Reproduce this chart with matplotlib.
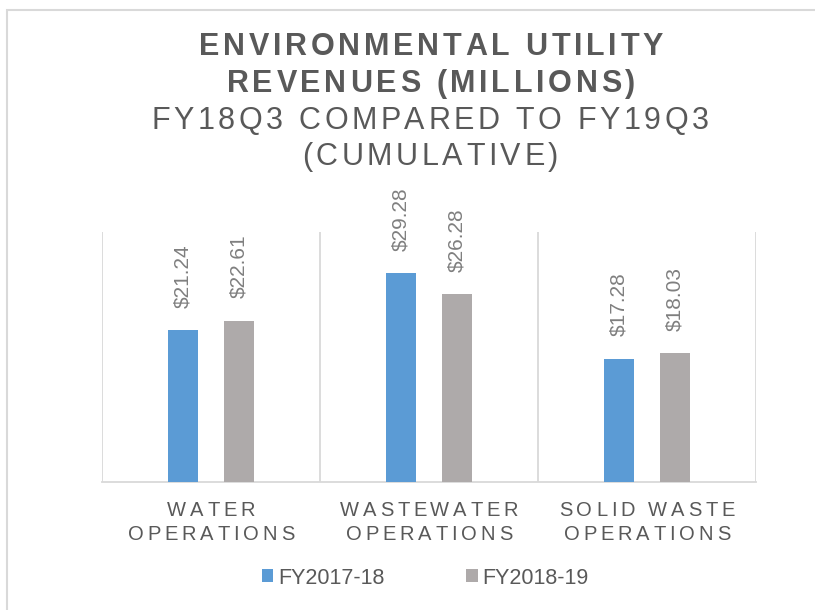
import matplotlib
matplotlib.use("Agg")
import matplotlib.pyplot as plt
from matplotlib.patches import Rectangle
from matplotlib.font_manager import FontProperties, findfont, get_font

categories = [["WATER", "OPERATIONS"],
              ["WASTEWATER", "OPERATIONS"],
              ["SOLID WASTE", "OPERATIONS"]]
series_names = ["FY2017-18", "FY2018-19"]
fy17 = [21.24, 29.28, 17.28]
fy18 = [22.61, 26.28, 18.03]
title_lines = ["ENVIRONMENTAL UTILITY", "REVENUES (MILLIONS)"]
subtitle_lines = ["FY18Q3 COMPARED TO FY19Q3", "(CUMULATIVE)"]

BLUE = "#5B9BD5"
GRAY = "#AEAAAA"
TEXT = "#595959"
LABEL = "#7F7F7F"
LINE = "#D9D9D9"
FONT = "Liberation Sans"

W, H, DPI = 815, 610, 100
fig = plt.figure(figsize=(W / DPI, H / DPI), dpi=DPI)
ax = fig.add_axes([102 / W, 1 - 482 / H, (756 - 102) / W, (482 - 232) / H])


def spaced(x_px, y_px, s, size, spacing, weight="normal", color=TEXT):
    # draw text with extra letter spacing, centred on x_px, baseline at y_px (from top)
    fp = FontProperties(family=FONT, size=size, weight=weight)
    font = get_font(findfont(fp))
    font.set_size(size, DPI)
    advs = []
    for ch in s:
        g = font.load_char(ord(ch))
        advs.append(g.linearHoriAdvance / 65536)
    total = sum(advs) + spacing * (len(s) - 1)
    x = x_px - total / 2
    for ch, a in zip(s, advs):
        fig.text(x / W, 1 - y_px / H, ch, fontproperties=fp, color=color,
                 ha="left", va="baseline")
        x += a + spacing


n = len(fy17)
xs = list(range(n))
bw = 0.1376
off = 0.128
b1 = ax.bar([x - off for x in xs], fy17, bw, color=BLUE, label=series_names[0], zorder=3)
b2 = ax.bar([x + off for x in xs], fy18, bw, color=GRAY, label=series_names[1], zorder=3)

ax.set_xlim(-0.5, n - 0.5)
ax.set_ylim(0, 35)
ax.vlines([i - 0.5 for i in range(n + 1)], 0, 35, color=LINE, lw=1.3, zorder=1)
for s in ["top", "left", "right"]:
    ax.spines[s].set_visible(False)
ax.spines["bottom"].set_color(LINE)
ax.spines["bottom"].set_linewidth(1.3)
ax.set_xticks([])
ax.set_yticks([])

for bars in (b1, b2):
    for r in bars:
        v = r.get_height()
        ax.annotate(f"${v:.2f}", (r.get_x() + r.get_width() / 2, v),
                    xytext=(0, 16), textcoords="offset points", rotation=90,
                    ha="center", va="bottom", fontsize=15, color=LABEL,
                    family=FONT)

# titles
for i, line in enumerate(title_lines):
    spaced(431, 55 + 37 * i, line, 22, 3.7, weight="bold")
for i, line in enumerate(subtitle_lines):
    spaced(430, 129 + 36 * i, line, 22, 3.6)

# category labels
fig.canvas.draw()
for i, lines in enumerate(categories):
    cx = ax.transData.transform((i, 0))[0]
    for j, line in enumerate(lines):
        spaced(cx, 516 + 24 * j, line, 14.5, 3.8)

fig.legend(handles=[b1, b2], labels=series_names, loc="center",
           bbox_to_anchor=(425 / W, 1 - 578 / H), ncol=2, frameon=False,
           prop=FontProperties(family=FONT, size=15.5), labelcolor=TEXT,
           handlelength=0.55, handleheight=0.55, handletextpad=0.2,
           columnspacing=3.8)

fig.patches.append(Rectangle((6.5 / W, -0.1), 1.2, 1.1 - 9.5 / H,
                             transform=fig.transFigure, fill=False,
                             edgecolor=LINE, lw=1.5))

fig.savefig("out.png", dpi=DPI)
